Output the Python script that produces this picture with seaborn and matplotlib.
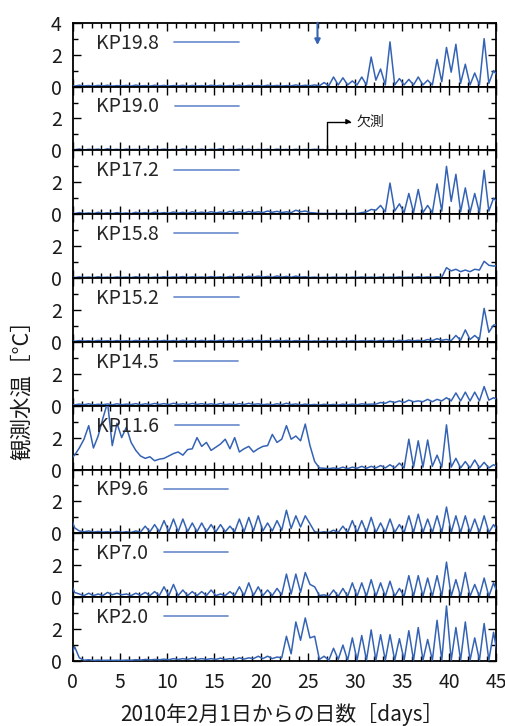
import numpy as np
import matplotlib
matplotlib.use("Agg")
import matplotlib.pyplot as plt
import seaborn as sns
from matplotlib.ticker import MultipleLocator

sns.set_theme(style="ticks")
plt.rcParams["font.family"] = ["Noto Sans CJK JP", "DejaVu Sans"]
plt.rcParams["axes.unicode_minus"] = False

nan = np.nan

# 半日ごとの時刻 (2010/2/1 からの日数)
days = np.arange(-0.3, 45.21, 0.5)

labels = ["KP19.8", "KP19.0", "KP17.2", "KP15.8", "KP15.2",
          "KP14.5", "KP11.6", "KP9.6", "KP7.0", "KP2.0"]

kp198 = [0.05, 0.03, 0.08, 0.04, 0.06, 0.03, 0.07, 0.04, 0.08, 0.03,
         0.06, 0.04, 0.07, 0.03, 0.09, 0.04, 0.06, 0.03, 0.08, 0.04,
         0.07, 0.03, 0.06, 0.04, 0.08, 0.03, 0.07, 0.04, 0.06, 0.03,
         0.08, 0.04, 0.07, 0.03, 0.06, 0.04, 0.09, 0.03, 0.07, 0.04,
         0.06, 0.03, 0.08, 0.04, 0.07, 0.03, 0.06, 0.04, 0.10, 0.04,
         0.08, 0.05, 0.10, 0.05, 0.25, 0.05, 0.60, 0.10, 0.55, 0.10,
         0.35, 0.10, 0.60, 0.10, 1.85, 0.40, 1.10, 0.10, 2.80, 0.10,
         0.50, 0.10, 0.45, 0.10, 0.60, 0.10, 0.40, 0.10, 1.70, 0.30,
         2.45, 0.90, 2.65, 0.20, 1.40, 0.10, 0.85, 0.10, 3.00, 0.20,
         1.00, 0.60]

kp190 = [0.06, 0.04, 0.09, 0.03, 0.07, 0.05, 0.08, 0.03, 0.10, 0.04,
         0.07, 0.03, 0.08, 0.05, 0.06, 0.04, 0.09, 0.03, 0.07, 0.04,
         0.08, 0.04, 0.06, 0.03, 0.09, 0.05, 0.07, 0.04, 0.08, 0.03,
         0.07, 0.04, 0.10, 0.03, 0.06, 0.04, 0.08, 0.05, 0.07, 0.03,
         0.06, 0.04, 0.07, 0.03, 0.08, 0.04, 0.06, 0.03, 0.07, 0.04,
         0.06, 0.04, 0.07, 0.05, 0.05, nan, nan, nan, nan, nan,
         nan, nan, nan, nan, nan, nan, nan, nan, nan, nan,
         nan, nan, nan, nan, nan, nan, nan, nan, nan, nan,
         nan, nan, nan, nan, nan, nan, nan, nan, nan, nan,
         nan, nan]

kp172 = [0.06, 0.04, 0.10, 0.05, 0.08, 0.04, 0.12, 0.05, 0.09, 0.04,
         0.10, 0.05, 0.08, 0.04, 0.12, 0.06, 0.10, 0.05, 0.13, 0.06,
         0.10, 0.06, 0.14, 0.07, 0.12, 0.06, 0.15, 0.08, 0.13, 0.07,
         0.16, 0.08, 0.14, 0.07, 0.18, 0.09, 0.15, 0.08, 0.17, 0.10,
         0.15, 0.10, 0.20, 0.12, 0.18, 0.10, 0.15, 0.10, 0.25, 0.15,
         0.20, 0.10, 0.08, 0.05, 0.05, 0.04, 0.05, 0.04, 0.05, 0.04,
         0.05, 0.04, 0.10, 0.15, 0.30, 0.25, 0.55, 0.15, 1.95, 0.20,
         0.65, 0.10, 1.30, 0.10, 1.55, 0.10, 0.55, 0.10, 1.90, 0.20,
         3.00, 0.80, 2.50, 0.15, 1.65, 0.10, 1.30, 0.10, 2.75, 0.20,
         1.00, 0.70]

kp158 = [0.05, 0.03, 0.07, 0.04, 0.06, 0.03, 0.08, 0.04, 0.06, 0.03,
         0.07, 0.04, 0.06, 0.03, 0.08, 0.04, 0.07, 0.03, 0.06, 0.04,
         0.08, 0.04, 0.07, 0.05, 0.09, 0.04, 0.08, 0.05, 0.07, 0.04,
         0.09, 0.05, 0.08, 0.04, 0.10, 0.05, 0.09, 0.05, 0.11, 0.06,
         0.12, 0.06, 0.10, 0.05, 0.13, 0.06, 0.10, 0.05, 0.12, 0.06,
         0.08, 0.04, 0.06, 0.03, 0.05, 0.03, 0.06, 0.04, 0.05, 0.03,
         0.06, 0.04, 0.07, 0.04, 0.06, 0.03, 0.07, 0.04, 0.06, 0.04,
         0.07, 0.04, 0.06, 0.04, 0.08, 0.04, 0.07, 0.05, 0.08, 0.05,
         0.65, 0.45, 0.55, 0.40, 0.50, 0.40, 0.55, 0.50, 1.05, 0.80,
         0.75, 0.80]

kp152 = [0.06, 0.04, 0.08, 0.05, 0.07, 0.04, 0.09, 0.05, 0.07, 0.04,
         0.08, 0.05, 0.07, 0.04, 0.09, 0.05, 0.08, 0.04, 0.07, 0.05,
         0.09, 0.05, 0.08, 0.04, 0.10, 0.05, 0.08, 0.05, 0.09, 0.04,
         0.08, 0.05, 0.10, 0.05, 0.08, 0.04, 0.09, 0.05, 0.10, 0.05,
         0.09, 0.05, 0.08, 0.04, 0.10, 0.05, 0.09, 0.04, 0.08, 0.05,
         0.07, 0.04, 0.06, 0.04, 0.07, 0.04, 0.06, 0.03, 0.07, 0.04,
         0.08, 0.04, 0.07, 0.05, 0.08, 0.04, 0.09, 0.05, 0.08, 0.04,
         0.10, 0.05, 0.12, 0.06, 0.10, 0.05, 0.15, 0.08, 0.20, 0.10,
         0.15, 0.08, 0.40, 0.10, 0.75, 0.15, 0.40, 0.15, 2.10, 0.60,
         1.05, 1.10]

kp145 = [0.08, 0.05, 0.10, 0.06, 0.12, 0.05, 0.09, 0.06, 0.11, 0.05,
         0.12, 0.06, 0.10, 0.07, 0.13, 0.06, 0.12, 0.07, 0.14, 0.08,
         0.13, 0.07, 0.15, 0.08, 0.12, 0.07, 0.14, 0.08, 0.13, 0.07,
         0.12, 0.06, 0.14, 0.07, 0.11, 0.06, 0.13, 0.07, 0.15, 0.08,
         0.12, 0.06, 0.10, 0.05, 0.12, 0.06, 0.15, 0.07, 0.11, 0.05,
         0.10, 0.05, 0.08, 0.04, 0.09, 0.05, 0.08, 0.04, 0.10, 0.05,
         0.10, 0.05, 0.12, 0.08, 0.10, 0.10, 0.20, 0.15, 0.28, 0.20,
         0.30, 0.20, 0.35, 0.25, 0.30, 0.25, 0.40, 0.25, 0.40, 0.30,
         0.50, 0.30, 0.80, 0.30, 0.85, 0.30, 0.85, 0.30, 1.20, 0.35,
         0.50, 0.35]

kp116 = [0.60, 0.90, 1.35, 1.90, 2.75, 1.35, 2.10, 3.20, 4.20, 1.50,
         2.90, 2.00, 2.65, 1.70, 1.20, 0.85, 0.70, 0.80, 0.55, 0.65,
         0.70, 0.85, 1.00, 1.10, 0.90, 1.25, 1.30, 2.00, 1.45, 1.70,
         1.20, 1.40, 1.60, 1.90, 1.30, 2.00, 1.10, 1.30, 1.45, 1.10,
         1.30, 1.45, 1.50, 2.20, 1.70, 1.90, 2.75, 1.90, 2.10, 1.80,
         2.85, 1.50, 0.50, 0.10, 0.08, 0.05, 0.10, 0.05, 0.15, 0.05,
         0.15, 0.08, 0.20, 0.08, 0.20, 0.10, 0.25, 0.10, 0.30, 0.10,
         0.40, 0.10, 1.90, 0.15, 1.80, 0.15, 1.85, 0.20, 0.90, 0.15,
         2.80, 0.15, 0.70, 0.10, 0.50, 0.10, 0.60, 0.10, 0.45, 0.10,
         0.30, 0.15]

kp96 = [1.20, 0.35, 0.15, 0.10, 0.15, 0.08, 0.12, 0.08, 0.10, 0.06,
        0.12, 0.06, 0.10, 0.06, 0.15, 0.08, 0.45, 0.10, 0.55, 0.10,
        0.80, 0.10, 0.90, 0.10, 0.90, 0.10, 0.65, 0.10, 0.65, 0.10,
        0.55, 0.10, 0.55, 0.10, 0.45, 0.10, 0.90, 0.10, 1.00, 0.15,
        1.10, 0.15, 0.65, 0.15, 0.80, 0.20, 1.45, 0.30, 1.10, 0.40,
        1.10, 0.60, 0.10, 0.05, 0.10, 0.05, 0.20, 0.05, 0.45, 0.05,
        0.80, 0.05, 0.80, 0.05, 1.00, 0.05, 0.65, 0.05, 0.90, 0.05,
        0.55, 0.05, 1.10, 0.05, 1.20, 0.05, 0.90, 0.05, 1.10, 0.05,
        1.65, 0.05, 1.10, 0.05, 1.10, 0.05, 0.90, 0.05, 1.10, 0.05,
        0.55, 0.10]

kp70 = [1.00, 0.30, 0.20, 0.10, 0.25, 0.10, 0.20, 0.10, 0.30, 0.15,
        0.25, 0.15, 0.20, 0.10, 0.25, 0.12, 0.30, 0.10, 0.35, 0.10,
        0.65, 0.10, 0.80, 0.10, 0.45, 0.10, 0.35, 0.10, 0.35, 0.10,
        0.45, 0.10, 0.20, 0.10, 0.35, 0.10, 0.65, 0.10, 0.90, 0.10,
        0.65, 0.10, 0.45, 0.10, 0.55, 0.15, 1.45, 0.20, 1.45, 0.30,
        1.55, 0.80, 0.65, 0.10, 0.15, 0.05, 0.45, 0.05, 0.55, 0.05,
        0.90, 0.05, 0.90, 0.05, 1.10, 0.05, 0.90, 0.05, 1.00, 0.05,
        0.55, 0.05, 1.35, 0.05, 1.35, 0.05, 1.20, 0.05, 1.35, 0.05,
        2.20, 0.05, 1.10, 0.05, 1.55, 0.05, 0.80, 0.05, 1.20, 0.05,
        0.90, 0.10]

kp20 = [0.10, 0.90, 0.20, 0.05, 0.08, 0.04, 0.06, 0.04, 0.05, 0.04,
        0.05, 0.04, 0.06, 0.05, 0.08, 0.06, 0.10, 0.07, 0.10, 0.08,
        0.12, 0.08, 0.15, 0.10, 0.15, 0.10, 0.18, 0.10, 0.15, 0.10,
        0.15, 0.10, 0.18, 0.10, 0.15, 0.10, 0.20, 0.12, 0.20, 0.15,
        0.30, 0.15, 0.30, 0.15, 0.25, 0.20, 1.55, 0.45, 2.45, 1.30,
        2.70, 1.45, 1.55, 0.10, 0.30, 0.05, 0.80, 0.10, 1.00, 0.05,
        1.45, 0.05, 1.60, 0.05, 1.95, 0.05, 1.65, 0.05, 1.65, 0.05,
        1.40, 0.05, 1.90, 0.05, 2.10, 0.05, 1.35, 0.05, 2.55, 0.05,
        3.45, 0.05, 2.10, 0.05, 2.45, 0.05, 1.45, 0.05, 2.35, 0.05,
        1.80, 0.10]

series = [kp198, kp190, kp172, kp158, kp152, kp145, kp116, kp96, kp70, kp20]

BLUE = "#3563b4"
LIGHT = "#7593cf"

fig, axes = plt.subplots(len(labels), 1, sharex=True, figsize=(5.06, 7.26), dpi=100)
fig.subplots_adjust(left=0.1437, right=0.981, top=0.9687, bottom=0.0895, hspace=0)

for i, (ax, name, vals) in enumerate(zip(axes, labels, series)):
    sns.lineplot(x=days, y=vals, ax=ax, color=BLUE, linewidth=1.1,
                 estimator=None, label=name, zorder=3)
    ax.set_xlim(0, 45)
    ax.set_ylim(0, 4)
    ax.set_xlabel("")
    ax.set_ylabel("")
    ax.xaxis.set_major_locator(MultipleLocator(5))
    ax.xaxis.set_minor_locator(MultipleLocator(1))
    ax.set_yticks([0, 2, 4])
    ax.set_yticklabels(["0", "2", "4" if i == 0 else ""])
    ax.yaxis.set_minor_locator(MultipleLocator(1))
    ax.tick_params(which="both", direction="in", top=True, right=True,
                   color="black", width=1.0, labelsize=14, labelcolor="#1a1a1a")
    ax.tick_params(which="major", length=6)
    ax.tick_params(which="minor", length=3.5)
    ax.tick_params(axis="y", pad=8)
    ax.tick_params(axis="x", pad=8)
    for sp in ax.spines.values():
        sp.set_color("black")
        sp.set_linewidth(1.3)
    leg = ax.legend(loc="center left", bbox_to_anchor=(0.055, 0.68), frameon=False,
                    markerfirst=False, handlelength=3.3, handletextpad=0.8,
                    borderpad=0, borderaxespad=0, fontsize=14)
    for h in leg.get_lines():
        h.set_color(LIGHT)
        h.set_linewidth(1.3)

# 観測開始の矢印 (KP19.8)
axes[0].annotate("", xy=(26.0, 2.6), xytext=(26.0, 4.0),
                 arrowprops=dict(arrowstyle="-|>", color=BLUE, lw=1.5,
                                 mutation_scale=8, shrinkA=0, shrinkB=0))

# 欠測 (KP19.0)
axes[1].annotate("", xy=(29.6, 1.8), xytext=(27.0, 0.0),
                 arrowprops=dict(arrowstyle="-|>", color="black", lw=1.0,
                                 mutation_scale=7, shrinkA=0, shrinkB=0,
                                 connectionstyle="angle,angleA=90,angleB=0,rad=0"))
axes[1].text(30.1, 1.8, "欠測", fontsize=10, va="center", ha="left", color="#1a1a1a")

fig.text(0.043, 0.47, "観測水温［°C］", rotation=90, ha="center", va="center",
         fontsize=15.5, color="#1a1a1a")
fig.text(0.558, 0.016, "2010年2月1日からの日数［days］", ha="center", va="center",
         fontsize=15, color="#1a1a1a")

fig.savefig("out.png", dpi=100)
